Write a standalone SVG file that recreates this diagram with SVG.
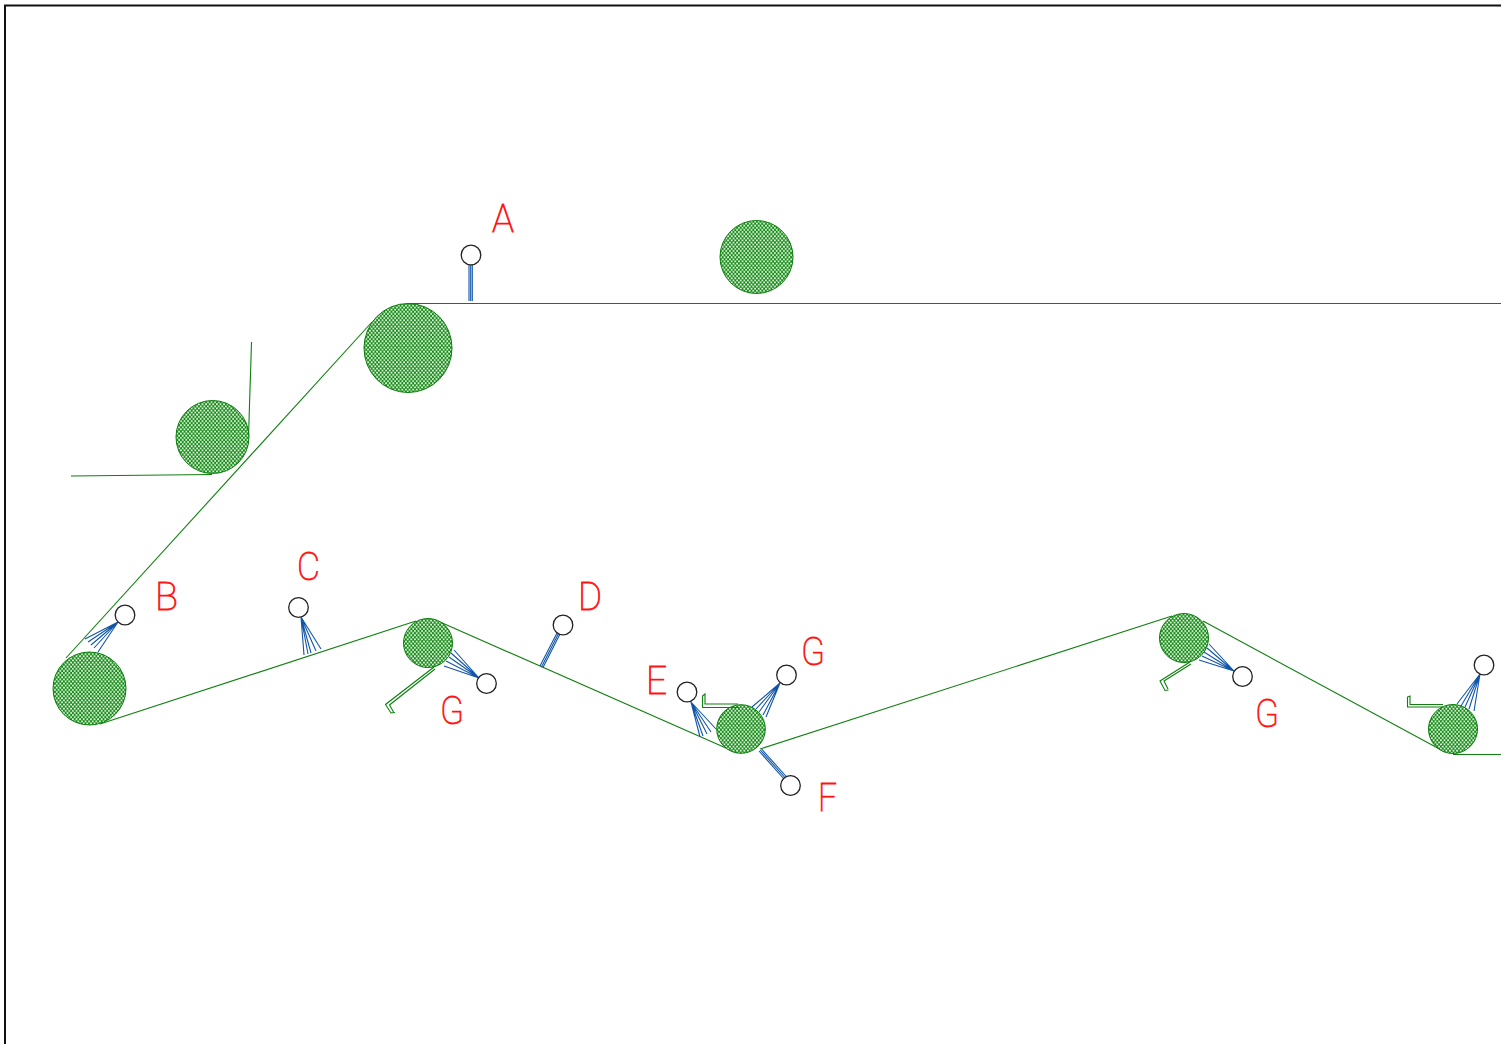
<svg xmlns="http://www.w3.org/2000/svg" width="1501" height="1044" viewBox="0 0 1501 1044">
<style>
.roller{fill:url(#hatch);stroke:#0a7d0a;stroke-width:1}
.web{fill:none;stroke:#0f7f0f;stroke-width:1.1}
.blade{fill:none;stroke:#0f7f0f;stroke-width:1.1}
.spray{fill:none;stroke:#1155aa;stroke-width:1.1}
.nozzle{fill:#fff;stroke:#222;stroke-width:1.3}
.lab{fill:#ff1414;font-family:"Roboto","Lato","Liberation Sans",sans-serif;font-weight:100;font-size:38px;stroke:#ff1414;stroke-width:.8}
</style>
<defs>
<pattern id="hatch" width="3.6" height="4.2" patternUnits="userSpaceOnUse">
<rect width="3.6" height="4.2" fill="#118a11"/>
<circle cx="0.9" cy="1.05" r="0.95" fill="#f2fbf2"/>
<circle cx="2.7" cy="3.15" r="0.95" fill="#f2fbf2"/>
</pattern>
</defs>
<rect width="1501" height="1044" fill="#fff"/>
<path d="M5,1044V5.500H1501" fill="none" stroke="#111" stroke-width="2"/>
<g id="connectors">
<path class="web" d="M1501,303.500H408"/>
<path class="web" d="M372,322L66,658"/>
<path class="web" d="M71,476L212,474.500"/>
<path class="web" d="M251.500,342L248.500,437"/>
<path class="web" d="M100,724L416,621"/>
<path class="web" d="M440,622L735,752"/>
<path class="web" d="M760,749L1172,616"/>
<path class="web" d="M1203,621L1445,752"/>
<path class="web" d="M1453,754.500H1501"/>
</g>
<g id="roller-1"><ellipse class="roller" cx="408" cy="348" rx="44" ry="44.500"/></g>
<g id="roller-2"><circle class="roller" cx="756.500" cy="257" r="36.500"/></g>
<g id="roller-3"><circle class="roller" cx="212.500" cy="437" r="36.500"/></g>
<g id="roller-4"><circle class="roller" cx="89.500" cy="688.500" r="36.500"/></g>
<g id="roller-5"><circle class="roller" cx="428" cy="643" r="24.500"/></g>
<g id="roller-6"><circle class="roller" cx="741" cy="729" r="24.300"/></g>
<g id="roller-7"><circle class="roller" cx="1184" cy="638" r="24.500"/></g>
<g id="roller-8"><circle class="roller" cx="1453" cy="729" r="24.500"/></g>
<g id="blade-1"><path class="blade" d="M434,667L385.500,704.500L391,713L395,712.500M435,669L389.500,705L393.500,712"/></g>
<g id="blade-2"><path class="blade" d="M739,707.500H702.500V696L705,694V704H738"/></g>
<g id="blade-3"><path class="blade" d="M1190,662L1160,681L1165,690.500L1168.500,690M1191,664L1164,681L1168,689"/></g>
<g id="blade-4"><path class="blade" d="M1443,707H1407.500V697L1410,696V704.500H1443"/></g>
<g id="nozzle-A"><path class="spray" d="M469,265V301M470.700,265V301M472.300,265V301"/><circle class="nozzle" cx="471" cy="255" r="9.800"/></g>
<g id="nozzle-B"><path class="spray" d="M118,622L85,639M118,622L88,642M118,622L91,645M118,622L94,648M118,622L98,652"/><circle class="nozzle" cx="125" cy="615" r="9.800"/></g>
<g id="nozzle-C"><path class="spray" d="M301,617L304,655M301,617L308,654M301,617L311,653M301,617L316,651M301,617L321,649"/><circle class="nozzle" cx="298.500" cy="607.500" r="9.800"/></g>
<g id="nozzle-D"><path class="spray" d="M557,633L540,666M558.500,633.500L541.500,667M560,634L543,667.500"/><circle class="nozzle" cx="563" cy="625" r="9.800"/></g>
<g id="nozzle-G1"><path class="spray" d="M479,678L454,650M479,678L451,653M479,678L449,657M479,678L446,661M479,678L444,666"/><circle class="nozzle" cx="486.500" cy="683.500" r="9.800"/></g>
<g id="nozzle-E"><path class="spray" d="M691,702L700,737M691,702L703,736M691,702L707,734M691,702L711,732M691,702L716,729"/><circle class="nozzle" cx="687" cy="692" r="9.800"/></g>
<g id="nozzle-G2"><path class="spray" d="M780,683L752,707M780,683L756,709M780,683L759,712M780,683L763,715M780,683L766,717"/><circle class="nozzle" cx="786.500" cy="675" r="9.800"/></g>
<g id="nozzle-F"><path class="spray" d="M759,751L784,779M760.300,750L785.300,778M761.600,749L786.600,777"/><circle class="nozzle" cx="790.500" cy="785.500" r="9.800"/></g>
<g id="nozzle-G3"><path class="spray" d="M1234,671L1209,644M1234,671L1207,648M1234,671L1204,652M1234,671L1202,656M1234,671L1199,660"/><circle class="nozzle" cx="1242.500" cy="676.500" r="9.800"/></g>
<g id="nozzle-G4"><path class="spray" d="M1480,674L1457,704M1480,674L1461,706M1480,674L1465,707M1480,674L1469,709M1480,674L1474,711"/><circle class="nozzle" cx="1484" cy="665" r="9.800"/></g>
<g id="labels">
<text class="lab" x="492" y="232" textLength="22" lengthAdjust="spacingAndGlyphs">A</text>
<text class="lab" x="155" y="609.500" textLength="23" lengthAdjust="spacingAndGlyphs">B</text>
<text class="lab" x="297" y="580" textLength="23" lengthAdjust="spacingAndGlyphs">C</text>
<text class="lab" x="578" y="609.500" textLength="24" lengthAdjust="spacingAndGlyphs">D</text>
<text class="lab" x="646" y="693.500" textLength="21" lengthAdjust="spacingAndGlyphs">E</text>
<text class="lab" x="818" y="811" textLength="19" lengthAdjust="spacingAndGlyphs">F</text>
<text class="lab" x="440" y="724" textLength="24" lengthAdjust="spacingAndGlyphs">G</text>
<text class="lab" x="801" y="664.500" textLength="24" lengthAdjust="spacingAndGlyphs">G</text>
<text class="lab" x="1255" y="727" textLength="24" lengthAdjust="spacingAndGlyphs">G</text>
</g>
</svg>
